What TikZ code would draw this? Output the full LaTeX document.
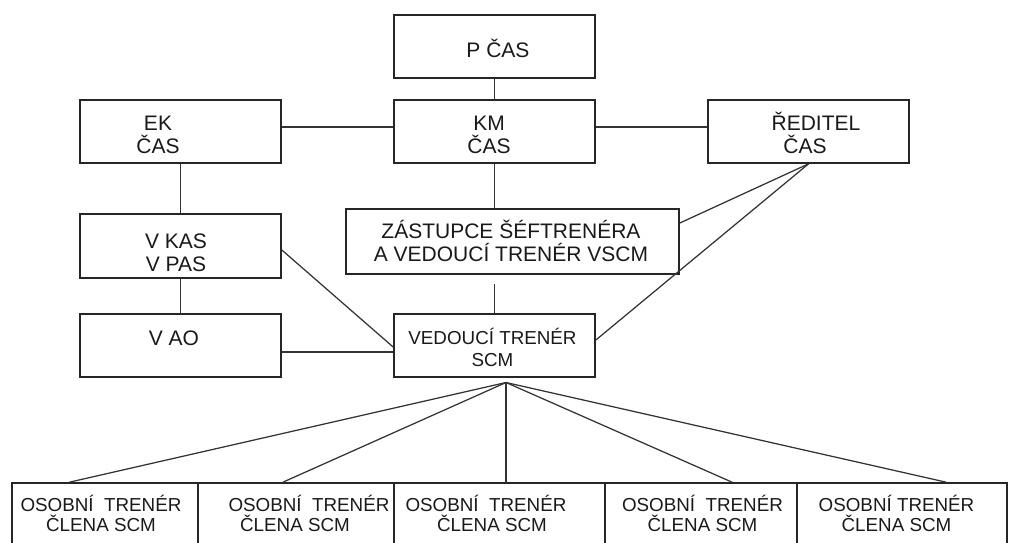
\documentclass[tikz,border=0pt]{standalone}
\usepackage{fontspec}
\setmainfont{Liberation Sans}
\usetikzlibrary{calc}
\begin{document}
\begin{tikzpicture}[x=1pt,y=-1pt,
  box/.style={draw=black!85,line width=1.7pt,inner sep=0pt,minimum width=201pt,minimum height=63pt},
  conn/.style={draw=black!80,line width=1.25pt},
  lbl/.style={anchor=base,align=center,inner sep=0pt,text=black!90,font=\fontsize{21}{23}\selectfont},
  lbls/.style={lbl,font=\fontsize{18.8}{22.4}\selectfont},
  lblo/.style={lbl,font=\fontsize{18.8}{20}\selectfont}]
\useasboundingbox (0,0) rectangle (1009,542);
% boxes
\node[box] (pcas) at (494.5,46.5) {};
\node[box] (km)   at (494.5,131.5) {};
\node[box] (ek)   at (180.5,131.5) {};
\node[box] (red)  at (808.5,131.5) {};
\node[box,minimum width=333pt,minimum height=65pt] (zast) at (512.5,241.5) {};
\node[box,minimum height=64pt] (vkas) at (180.5,246) {};
\node[box] (vao)  at (180.5,345.5) {};
\node[box] (ved)  at (494.5,345.5) {};
\node[box,minimum width=186pt,minimum height=87pt] (o1) at (105,526.5) {};
\node[box,minimum width=196pt,minimum height=87pt] (o2) at (296,526.5) {};
\node[box,minimum width=211pt,minimum height=87pt] (o3) at (499.5,526.5) {};
\node[box,minimum width=192pt,minimum height=87pt] (o4) at (701,526.5) {};
\node[box,minimum width=210pt,minimum height=87pt] (o5) at (902,526.5) {};
% texts (base anchor = baseline of the last line)
\node[lbl] (tpcas) at (498,57) {P ČAS};
\node[lbl] (tkm) at (489,153.3) {KM\\ČAS};
\node[lbl] (tek) at (158,153.3) {EK\\ČAS};
\node[lbl] (tred) at (816,153.3) {ŘEDITEL\\ČAS\hspace*{22pt}};
\node[lbl] (tzast) at (511,261.7) {ZÁSTUPCE ŠÉFTRENÉRA\\A VEDOUCÍ TRENÉR VSCM};
\node[lbl] (tvkas) at (176,271.7) {V KAS\\V PAS};
\node[lbl] (tvao) at (174,345) {V AO};
\node[lbls] (tved) at (492.5,366.7) {VEDOUCÍ TRENÉR\\SCM};
\node[lblo] (to1) at (101,531.7) {OSOBNÍ~~TRENÉR\\ČLENA SCM};
\node[lblo] (to2) at (295,531.7) {\hspace*{28pt}OSOBNÍ~~TRENÉR\\ČLENA SCM};
\node[lblo] (to3) at (492,531.7) {OSOBNÍ~~TRENÉR\hspace*{12pt}\\ČLENA SCM};
\node[lblo] (to4) at (702.5,531.7) {OSOBNÍ~~TRENÉR\\ČLENA SCM};
\node[lblo] (to5) at (896.5,531.7) {OSOBNÍ TRENÉR\\ČLENA SCM};
% connectors
\draw[conn] (pcas) -- (km);
\draw[conn] ([yshift=4.5pt]ek.east) -- ([yshift=4.5pt]km.west);
\draw[conn] ([yshift=4.5pt]km.east) -- ([yshift=4.5pt]red.west);
\draw[conn] (ek) -- (vkas);
\draw[conn] (vkas) -- (vao);
\draw[conn] (km.south) -- (km.south |- zast.north);
\coordinate (gap) at ($(zast.south -| ved.north)+(0,9)$);
\draw[conn] (gap) -- (ved.north);
\draw[conn] ([yshift=-4pt]vkas.east) -- ([yshift=-1.5pt]ved.west);
\draw[conn] ([yshift=-6.5pt]vao.east) -- ([yshift=-6.5pt]ved.west);
\draw[conn] (red.south) -- ([yshift=18.5pt]zast.east);
\draw[conn] (red.south) -- ([yshift=5.5pt]ved.east);
\coordinate (apex) at (506,382.5);
\draw[conn] (apex) -- ([xshift=-35.5pt]o1.north);
\draw[conn] (apex) -- ([xshift=-13pt]o2.north);
\draw[conn] (apex) -- ([xshift=6.5pt]o3.north);
\draw[conn] (apex) -- ([xshift=31pt]o4.north);
\draw[conn] (apex) -- ([xshift=44pt]o5.north);
\end{tikzpicture}
\end{document}
